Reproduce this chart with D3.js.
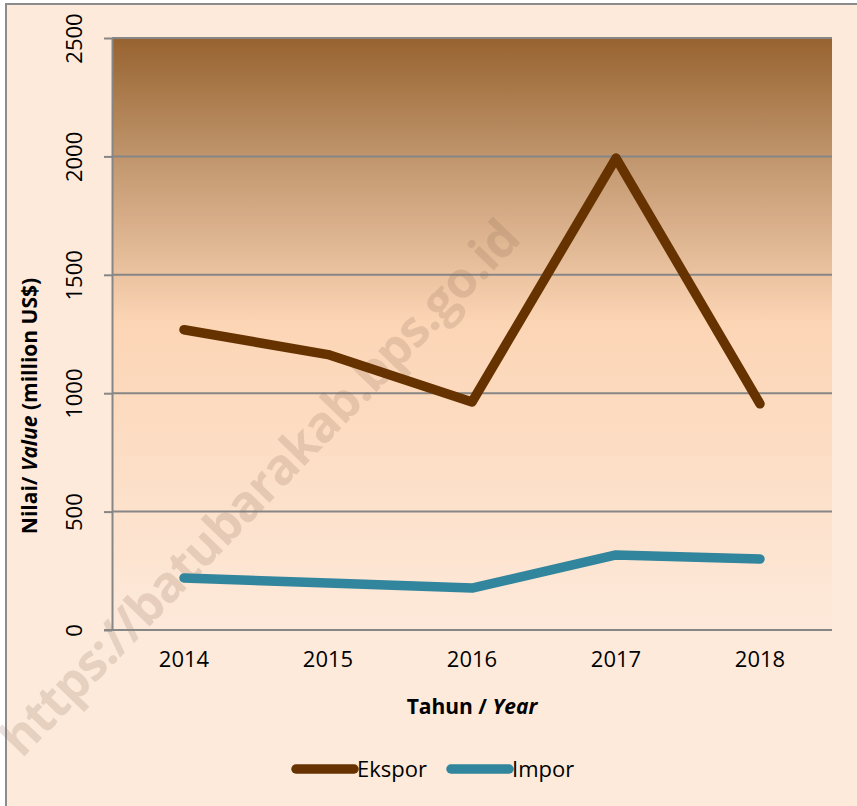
<!DOCTYPE html>
<html><head><meta charset="utf-8">
<script src="https://cdn.jsdelivr.net/npm/d3@7"></script>
<style>body{margin:0;background:#fff}svg{display:block}</style>
</head><body>
<svg id="c" width="857" height="806"></svg>
<script>
const years = ["2014","2015","2016","2017","2018"];
const ekspor = [1268, 1163, 963, 1993, 955];
const impor = [220, 198, 177, 317, 300];
const yTicks = [0, 500, 1000, 1500, 2000, 2500];
const seriesNames = ["Ekspor", "Impor"];
const seriesColors = ["#663300", "#31859C"];

const svg = d3.select("#c");
const font = "'Open Sans', 'Noto Sans', sans-serif";
const M = {left:112, top:38, right:832, bottom:630};

// outer chart area
svg.append("rect").attr("x",6).attr("y",4).attr("width",860).attr("height",820)
  .attr("fill","#FDEADA").attr("stroke","#8c8c8c").attr("stroke-width",2);

const defs = svg.append("defs");
const g = defs.append("linearGradient").attr("id","pg").attr("x1",0).attr("y1",0).attr("x2",0).attr("y2",1);
g.append("stop").attr("offset","0%").attr("stop-color","#976330");
g.append("stop").attr("offset","22%").attr("stop-color","#c49a72");
g.append("stop").attr("offset","48%").attr("stop-color","#fcd5b5");
g.append("stop").attr("offset","100%").attr("stop-color","#fde9da");

const x = d3.scaleBand().domain(years).range([M.left, M.right]);
const y = d3.scaleLinear().domain([0,2500]).range([M.bottom, M.top]);

svg.append("rect").attr("x",M.left).attr("y",M.top).attr("width",M.right-M.left).attr("height",M.bottom-M.top)
  .attr("fill","url(#pg)");

// gridlines
svg.append("g").selectAll("line").data(yTicks.filter(d=>d>0)).join("line")
  .attr("x1",M.left).attr("x2",M.right).attr("y1",d=>y(d)).attr("y2",d=>y(d))
  .attr("stroke","#868686").attr("stroke-width",2);

// watermark
svg.append("text").attr("transform","translate(272,500) rotate(-46)").attr("text-anchor","middle")
  .attr("font-family",font).attr("font-size",50).attr("font-weight","bold").attr("letter-spacing",-1)
  .attr("fill","#8a6a55").attr("fill-opacity",0.2).text("https://batubarakab.bps.go.id");

// y axis
const ya = svg.append("g").attr("transform",`translate(${M.left},0)`)
  .call(d3.axisLeft(y).tickValues(yTicks).tickSize(8).tickSizeOuter(0).tickFormat(d3.format("d")));
ya.select(".domain").attr("stroke","#868686").attr("stroke-width",2);
ya.selectAll(".tick line").attr("stroke","#868686").attr("stroke-width",2);
ya.selectAll(".tick text").attr("font-family",font).attr("font-size",22).attr("fill","#000")
  .attr("x",0).attr("y",0).attr("dy","0.35em").attr("text-anchor","middle")
  .attr("transform","translate(-38,0) rotate(-90)");

// x axis
const xa = svg.append("g").attr("transform",`translate(0,${M.bottom})`)
  .call(d3.axisBottom(x).tickSize(0).tickSizeOuter(0));
xa.select(".domain").attr("stroke","#868686").attr("stroke-width",2).attr("d",`M${M.left-8},0H${M.right}`);
xa.selectAll(".tick text").attr("font-family",font).attr("font-size",22).attr("fill","#000").attr("dy","1.55em");

// lines
const line = d3.line().x((d,i)=>x(years[i])+x.bandwidth()/2).y(d=>y(d));
[ekspor, impor].forEach((s,k)=>{
  svg.append("path").attr("d",line(s)).attr("fill","none").attr("stroke",seriesColors[k])
    .attr("stroke-width",9.5).attr("stroke-linecap","round").attr("stroke-linejoin","round");
});

// axis titles
const xt = svg.append("text").attr("x",472).attr("y",714).attr("text-anchor","middle")
  .attr("font-family",font).attr("font-size",21).attr("font-weight","bold");
xt.append("tspan").text("Tahun / ");
xt.append("tspan").attr("font-style","italic").text("Year");

const yt = svg.append("text").attr("transform","translate(37,406) rotate(-90)").attr("text-anchor","middle")
  .attr("font-family",font).attr("font-size",21).attr("font-weight","bold");
yt.append("tspan").text("Nilai/ ");
yt.append("tspan").attr("font-style","italic").text("Value");
yt.append("tspan").text(" (million US$)");

// legend
const legX = [296, 451];
seriesNames.forEach((n,k)=>{
  svg.append("line").attr("x1",legX[k]).attr("x2",legX[k]+58).attr("y1",769).attr("y2",769)
    .attr("stroke",seriesColors[k]).attr("stroke-width",9.5).attr("stroke-linecap","round");
  svg.append("text").attr("x",legX[k]+61).attr("y",777).attr("font-family",font).attr("font-size",22)
    .attr("fill","#000").text(n);
});
</script>
</body></html>
